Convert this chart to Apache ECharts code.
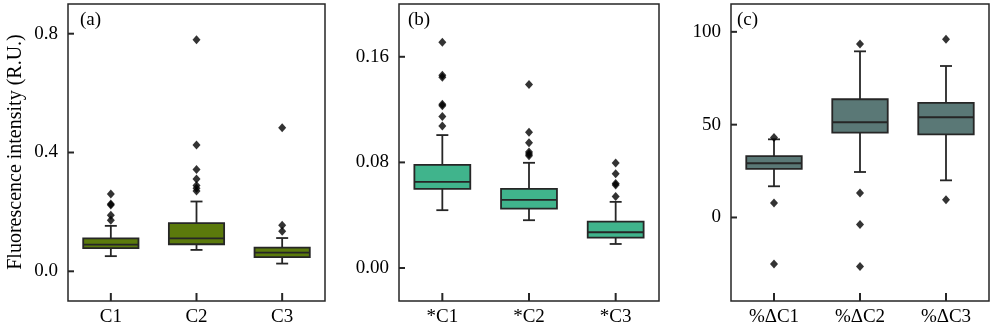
<!DOCTYPE html>
<html>
<head>
<meta charset="utf-8">
<script src="https://cdn.jsdelivr.net/npm/echarts@6/dist/echarts.min.js"></script>
<style>html,body{margin:0;padding:0;background:#fff}#c{width:1000px;height:330px}</style>
</head>
<body>
<div id="c"></div>
<script>
// ---- data ----
const catsA = ['C1', 'C2', 'C3'];
const catsB = ['*C1', '*C2', '*C3'];
const catsC = ['%\u0394C1', '%\u0394C2', '%\u0394C3'];
// [low whisker, Q1, median, Q3, high whisker]
const boxA = [[0.051, 0.078, 0.090, 0.111, 0.153], [0.072, 0.091, 0.111, 0.162, 0.235], [0.026, 0.048, 0.063, 0.080, 0.112]];
const boxB = [[0.0438, 0.060, 0.0653, 0.0782, 0.1007], [0.0362, 0.045, 0.0516, 0.060, 0.0797], [0.0182, 0.023, 0.0271, 0.0352, 0.0501]];
const boxC = [[16.8, 26.2, 29.2, 33.0, 42.1], [24.5, 45.7, 51.3, 63.7, 89.5], [20.0, 44.8, 54.0, 61.7, 81.6]];
// outliers [category index, value]
const outA = [[0, 0.260], [0, 0.227], [0, 0.223], [0, 0.189], [0, 0.172], [1, 0.780], [1, 0.425], [1, 0.343], [1, 0.311], [1, 0.289], [1, 0.280], [1, 0.270], [2, 0.483], [2, 0.155], [2, 0.135]];
const outB = [[0, 0.171], [0, 0.146], [0, 0.1445], [0, 0.124], [0, 0.123], [0, 0.1147], [0, 0.1076], [1, 0.139], [1, 0.1028], [1, 0.0949], [1, 0.0878], [1, 0.0863], [1, 0.085], [2, 0.0795], [2, 0.0714], [2, 0.064], [2, 0.0628], [2, 0.0542]];
const outC = [[0, 43.1], [0, 7.8], [0, -25.1], [1, 93.5], [1, 13.2], [1, -3.8], [1, -26.4], [2, 96.0], [2, 9.6]];
const ticksA = [0, 0.4, 0.8];
const ticksB = [0, 0.08, 0.16];
const ticksC = [0, 50, 100];
const rangeA = [-0.1, 0.9];
const rangeB = [-0.025, 0.2];
const rangeC = [-45, 115];
const colors = ['#5b7a0c', '#40b48c', '#5a7876'];

// ---- chart ----
const FONT = 'Liberation Serif';
const FS = 19;
const EDGE = '#262626';
const chart = echarts.init(document.getElementById('c'), null, {renderer: 'canvas'});

function renderBox(color) {
  return function (params, api) {
    const x = api.value(0);
    const lo = api.coord([x, api.value(1)]);
    const q1 = api.coord([x, api.value(2)]);
    const md = api.coord([x, api.value(3)]);
    const q3 = api.coord([x, api.value(4)]);
    const hi = api.coord([x, api.value(5)]);
    const band = api.size([1, 0])[0];
    const bw = band * 0.645;
    const cx = lo[0];
    const cap = 6;
    const ls = {stroke: EDGE, lineWidth: 1.8};
    return {
      type: 'group',
      children: [
        {type: 'line', shape: {x1: cx, y1: lo[1], x2: cx, y2: q1[1]}, style: ls},
        {type: 'line', shape: {x1: cx, y1: q3[1], x2: cx, y2: hi[1]}, style: ls},
        {type: 'line', shape: {x1: cx - cap, y1: lo[1], x2: cx + cap, y2: lo[1]}, style: ls},
        {type: 'line', shape: {x1: cx - cap, y1: hi[1], x2: cx + cap, y2: hi[1]}, style: ls},
        {type: 'rect', shape: {x: cx - bw / 2, y: q3[1], width: bw, height: q1[1] - q3[1]}, style: {fill: color, stroke: EDGE, lineWidth: 1.8}},
        {type: 'line', shape: {x1: cx - bw / 2, y1: md[1], x2: cx + bw / 2, y2: md[1]}, style: ls}
      ]
    };
  };
}
// inward tick marks: data item [category index, axis minimum] for x; [0, value] for y
function renderXTick(params, api) {
  const p = api.coord([api.value(0), api.value(1)]);
  return {type: 'line', shape: {x1: p[0], y1: p[1], x2: p[0], y2: p[1] - 8}, style: {stroke: EDGE, lineWidth: 2}};
}
function renderYTick(params, api) {
  const p = api.coord([0, api.value(1)]);
  const left = p[0] - api.size([1, 0])[0] / 2;
  return {type: 'line', shape: {x1: left, y1: p[1], x2: left + 6, y2: p[1]}, style: {stroke: EDGE, lineWidth: 2}};
}

const grids = [
  {left: 68, top: 4, width: 257, height: 297},
  {left: 399, top: 4, width: 260, height: 297},
  {left: 731, top: 4, width: 258, height: 297}
].map(g => Object.assign(g, {show: true, borderColor: EDGE, borderWidth: 1.5, backgroundColor: 'transparent'}));

function xAx(i, cats) {
  return {
    type: 'category', gridIndex: i, data: cats, boundaryGap: true,
    axisLine: {show: false, onZero: false},
    axisTick: {show: false},
    axisLabel: {fontFamily: FONT, fontSize: FS, color: '#000', margin: 7, interval: 0},
    splitLine: {show: false}
  };
}
function yAx(i, range, ticks, dec) {
  return {
    type: 'value', gridIndex: i, min: range[0], max: range[1],
    axisLine: {show: false, onZero: false},
    axisTick: {show: false},
    axisLabel: {fontFamily: FONT, fontSize: FS, color: '#000', margin: 10, customValues: ticks,
      formatter: v => Number(v).toFixed(dec)},
    splitLine: {show: false}
  };
}

const sets = [[boxA, outA, catsA, ticksA, rangeA], [boxB, outB, catsB, ticksB, rangeB], [boxC, outC, catsC, ticksC, rangeC]];
const series = [];
sets.forEach((s, i) => {
  series.push({
    type: 'custom', xAxisIndex: i, yAxisIndex: i,
    renderItem: renderBox(colors[i]),
    encode: {x: 0, y: [1, 2, 3, 4, 5]},
    data: s[0].map((b, k) => [k].concat(b)),
    z: 2
  });
  series.push({
    type: 'scatter', xAxisIndex: i, yAxisIndex: i,
    symbol: 'diamond', symbolSize: [8, 9],
    itemStyle: {color: '#000'},
    data: s[1], z: 3
  });
  series.push({
    type: 'custom', xAxisIndex: i, yAxisIndex: i, silent: true, z: 4, clip: false,
    renderItem: renderXTick, encode: {x: 0, y: 1},
    data: s[2].map((c, k) => [k, s[4][0]])
  });
  series.push({
    type: 'custom', xAxisIndex: i, yAxisIndex: i, silent: true, z: 4, clip: false,
    renderItem: renderYTick, encode: {x: 0, y: 1},
    data: s[3].map(v => [0, v])
  });
});

chart.setOption({
  animation: false,
  backgroundColor: '#fff',
  grid: grids,
  xAxis: [xAx(0, catsA), xAx(1, catsB), xAx(2, catsC)],
  yAxis: [yAx(0, rangeA, ticksA, 1), yAx(1, rangeB, ticksB, 2), yAx(2, rangeC, ticksC, 0)],
  series: series,
  graphic: [
    {type: 'text', x: 16, y: 152, rotation: Math.PI / 2,
      style: {text: 'Fluorescence intensity (R.U.)', font: '20px "' + FONT + '"', fill: '#000', align: 'center', verticalAlign: 'middle'}},
    {type: 'text', x: 80, y: 20, style: {text: '(a)', font: FS + 'px "' + FONT + '"', fill: '#000', align: 'left', verticalAlign: 'middle'}},
    {type: 'text', x: 408, y: 20, style: {text: '(b)', font: FS + 'px "' + FONT + '"', fill: '#000', align: 'left', verticalAlign: 'middle'}},
    {type: 'text', x: 737, y: 20, style: {text: '(c)', font: FS + 'px "' + FONT + '"', fill: '#000', align: 'left', verticalAlign: 'middle'}}
  ]
});
</script>
</body>
</html>
